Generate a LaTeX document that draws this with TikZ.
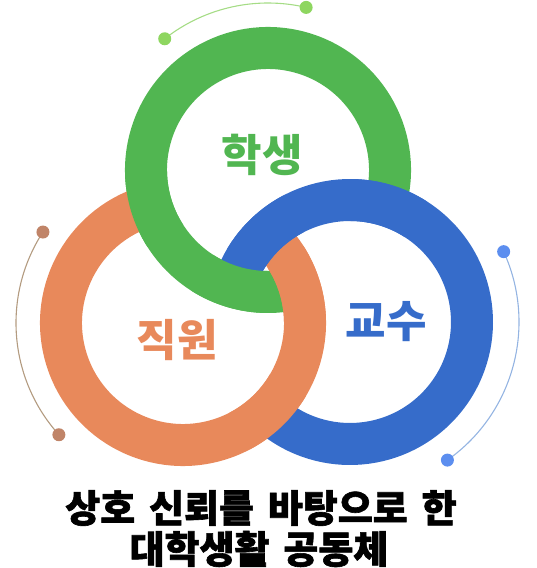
\documentclass[tikz,border=0pt]{standalone}
\usepackage{fontspec}
\newfontfamily\kr{Noto Sans CJK KR}
\newfontfamily\krh{Noto Sans CJK KR}[BoldFeatures={FakeBold=1.6}, WordSpace=1.6]
\definecolor{gring}{HTML}{51B651}
\definecolor{oring}{HTML}{E8895B}
\definecolor{bring}{HTML}{366CCA}
\definecolor{gdeco}{HTML}{8ED660}
\definecolor{gline}{HTML}{A5DC85}
\definecolor{odeco}{HTML}{C08468}
\definecolor{oline}{HTML}{B39B80}
\definecolor{bdeco}{HTML}{5C8EEF}
\definecolor{bline}{HTML}{94B4E2}
\newcommand\ringarc[4]{\draw[ring,#1] ([shift={(#3:122)}]#2) arc[start angle=#3, end angle=#4, radius=122];}
\begin{document}
\begin{tikzpicture}[x=1pt,y=1pt,
 ring/.style={line width=42pt},
 deco/.style={line width=1.1pt},
 dot/.style={circle, inner sep=0pt, minimum size=13pt},
 lbl/.style={font=\kr\bfseries\fontsize{44}{44}\selectfont},
 captext/.style={font=\krh\bfseries\fontsize{38}{38}\selectfont}]
\useasboundingbox (0,0) rectangle (537,568);
\coordinate (G) at (268,398);
\coordinate (O) at (183,245);
\coordinate (B) at (350,246);
% full visible arcs
\ringarc{gring}{G}{-16.7}{285.1}
\ringarc{oring}{O}{105.1}{407.2}
\ringarc{bring}{B}{227.2}{523.3}
% over-crossings
\ringarc{gring}{G}{180.8}{212.8}
\ringarc{gring}{G}{237.4}{269.4}
\ringarc{oring}{O}{297.5}{329.5}
\ringarc{oring}{O}{0.8}{32.8}
\ringarc{bring}{B}{57.4}{89.4}
\ringarc{bring}{B}{117.5}{149.5}
% decorative arcs
\coordinate (g1) at ([shift={(128.2:167)}]G);
\coordinate (g2) at ([shift={(76.8:167)}]G);
\coordinate (o1) at ([shift={(147:167)}]O);
\coordinate (o2) at ([shift={(222:167)}]O);
\coordinate (b1) at ([shift={(-54.8:169)}]B);
\coordinate (b2) at ([shift={(24.6:169)}]B);
\draw[deco, gline] (g2) arc[start angle=76.8, end angle=128.2, radius=167];
\draw[deco, oline] (o1) arc[start angle=147, end angle=222, radius=167];
\draw[deco, bline] (b1) arc[start angle=-54.8, end angle=24.6, radius=169];
\node[dot, fill=gdeco] (gd1) at (g1) {};
\node[dot, fill=gdeco] (gd2) at (g2) {};
\node[dot, fill=odeco] (od1) at (o1) {};
\node[dot, fill=odeco] (od2) at (o2) {};
\node[dot, fill=bdeco] (bd1) at (b1) {};
\node[dot, fill=bdeco] (bd2) at (b2) {};
% labels
\node[lbl, text=gring] (tg) at (262,413) {학생};
\node[lbl, text=oring] (to) at (177,228) {직원};
\node[lbl, text=bring] (tb) at (386,246) {교수};
\node[captext] (c1) at (261,60) {상호 신뢰를 바탕으로 한};
\node[captext] (c2) at (259,19) {대학생활 공동체};
\end{tikzpicture}
\end{document}
